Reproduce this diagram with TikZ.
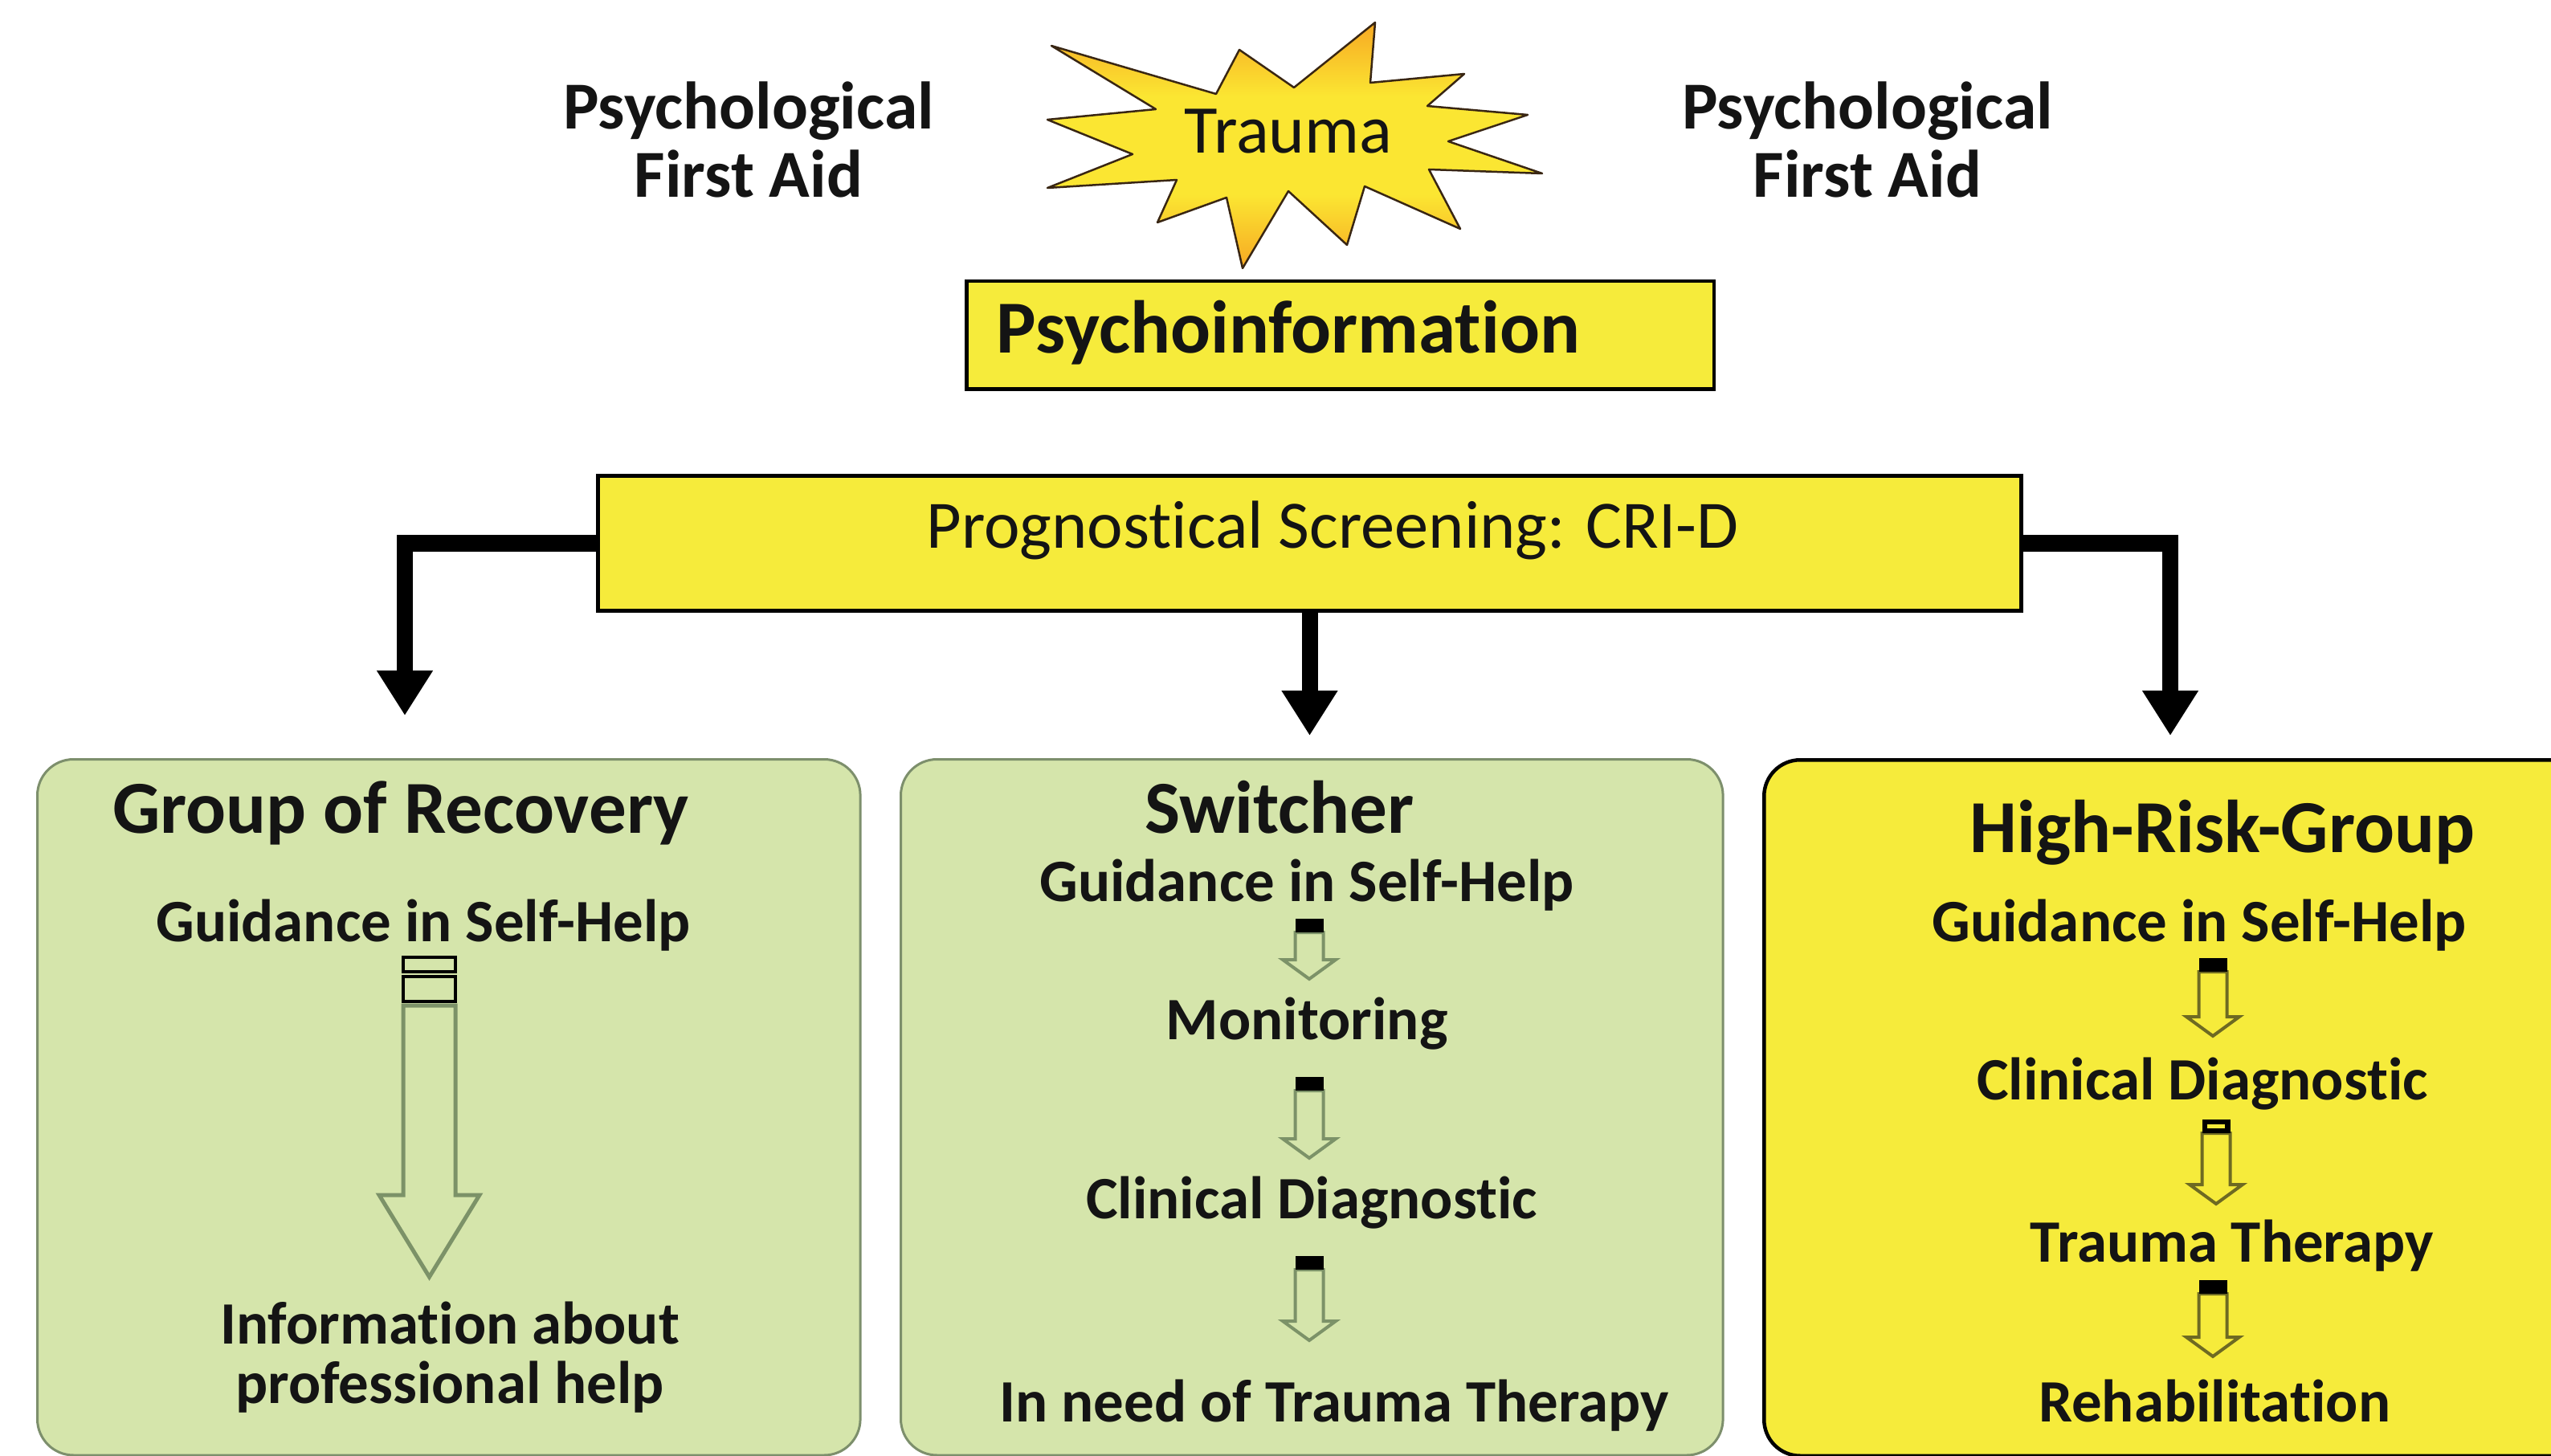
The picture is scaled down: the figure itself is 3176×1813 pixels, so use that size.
\documentclass[tikz,border=0pt]{standalone}
\usepackage{fontspec}
\setmainfont{Carlito}[Ligatures={NoCommon,NoContextual},Contextuals=NoAlternate]
\usetikzlibrary{arrows.meta}
\definecolor{boxyellow}{HTML}{F6EB3B}
\definecolor{boxgreen}{HTML}{D5E5AB}
\definecolor{greenedge}{HTML}{7D8F6C}
\definecolor{arrgreen}{HTML}{7C9268}
\definecolor{arrolive}{HTML}{6E6A22}
\definecolor{starred}{HTML}{E8461A}
\definecolor{starorange}{HTML}{F27E1F}
\definecolor{starmid}{HTML}{F8B526}
\definecolor{staryellow}{HTML}{FBE632}
\definecolor{textdark}{HTML}{141414}
\pgfdeclareverticalshading{starshade}{100bp}{color(0bp)=(starred); color(14bp)=(starorange); color(28bp)=(starmid); color(40bp)=(staryellow); color(60bp)=(staryellow); color(72bp)=(starmid); color(86bp)=(starorange); color(100bp)=(starred)}
\newcommand\blockarrow[5]{%
  \draw[line width=0.04cm,draw=#4,fill=#5,line join=miter]
    ({#1-17.5},{#2+17}) -- ({#1-17.5},{#3-24}) -- ({#1-33},{#3-24}) -- (#1,#3)
    -- ({#1+33},{#3-24}) -- ({#1+17.5},{#3-24}) -- ({#1+17.5},{#2+17}) -- cycle;
  \fill[black] ({#1-17.5},#2) rectangle ({#1+17.5},{#2+17});}
\begin{document}
\begin{tikzpicture}[x=0.01cm,y=-0.01cm,
  every node/.style={inner sep=0pt, text=textdark},
  lbl/.style={anchor=base},
  bigbold/.style={lbl, font=\fontsize{26.5}{30}\selectfont\bfseries},
  pfa/.style={lbl, font=\fontsize{23.8}{28}\selectfont\bfseries},
  plain/.style={lbl, font=\fontsize{24.2}{28}\selectfont},
  item/.style={lbl, font=\fontsize{21.3}{25}\selectfont\bfseries},
  greenbox/.style={draw=greenedge, line width=0.03cm, fill=boxgreen, rounded corners=0.45cm},
  yellowbox/.style={draw=black, line width=0.045cm, fill=boxyellow},
  conn/.style={line width=0.2cm, black, line join=miter, -{Triangle[width=0.66cm,length=0.56cm]}},
  bigarrow/.style={line width=0.05cm, draw=arrgreen, fill=boxgreen, line join=miter},
  startrace/.style={shade, shading=starshade, draw=black!70!brown, line width=0.025cm, line join=round}
]
\useasboundingbox (0,0) rectangle (3176,1813);
\clip (0,0) rectangle (3176,1813);

% Psychological First Aid
\node[pfa] (pfaL1) at (932,161) {Psychological};
\node[pfa] (pfaL2) at (932,246) {First Aid};
\node[pfa] (pfaR1) at (2325,161) {Psychological};
\node[pfa] (pfaR2) at (2325,246) {First Aid};

% star
\path[startrace] (1309,57) -- (1514,117) -- (1543,62) -- (1611,109) -- (1712,28) -- (1706,103)
  -- (1823,92) -- (1777,132) -- (1902,143) -- (1803,176) -- (1920,216) -- (1779,211)
  -- (1818,285) -- (1699,232) -- (1677,305) -- (1604,238) -- (1547,334) -- (1527,246)
  -- (1441,277) -- (1465,224) -- (1304,234) -- (1410,192) -- (1304,149) -- (1439,136) -- cycle;
\node[plain] (trauma) at (1604,191) {Trauma};

% Psychoinformation
\node[yellowbox, anchor=north west, minimum width=9.3cm, minimum height=1.34cm] (psy) at (1201,348) {};
\node[lbl, anchor=base west, font=\fontsize{26.5}{30}\selectfont\bfseries] (psytxt) at (1240,440) {Psychoinformation};

% Screening
\node[yellowbox, line width=0.05cm, minimum width=17.71cm, minimum height=1.67cm] (scr) at (1630.5,676.5) {};
\node[plain, font=\fontsize{24}{28}\selectfont] (scrtxt) at (1659,683) {Prognostical Screening: CRI-D};

% connectors
\coordinate (tipL) at (504,891);
\coordinate (tipM) at (1630.5,916);
\coordinate (tipR) at (2702,916);
\draw[conn] (scr.west) -| (tipL);
\draw[conn] (scr.south) -- (tipM);
\draw[conn] (scr.east) -| (tipR);

% boxes
\node[greenbox, anchor=north west, minimum width=10.24cm, minimum height=8.66cm] (boxL) at (45,944) {};
\node[greenbox, anchor=north west, minimum width=10.23cm, minimum height=8.66cm] (boxM) at (1120,944) {};
\node[yellowbox, rounded corners=0.45cm, anchor=north west, minimum width=11cm, minimum height=8.66cm] (boxR) at (2194,944) {};

% left box
\node[bigbold] (tL) at (499,1037) {Group of Recovery};
\node[item] (gL) at (527,1172) {Guidance in Self-Help};
\draw[line width=0.045cm] (502,1192) rectangle (567,1210);
\draw[line width=0.045cm] (502,1216) rectangle (567,1247);
\draw[bigarrow] (502,1252) -- (502,1488) -- (472,1488) -- (534.5,1590) -- (597,1488) -- (567,1488) -- (567,1252) -- cycle;
\node[item] (iL1) at (560,1673) {Information about};
\node[item] (iL2) at (560,1747) {professional help};

% middle box
\node[bigbold] (tM) at (1593,1037) {Switcher};
\node[item] (gM) at (1627,1122) {Guidance in Self-Help};
\blockarrow{1630}{1144}{1219}{arrgreen}{boxgreen}
\node[item] (mM) at (1627,1294) {Monitoring};
\blockarrow{1630}{1341}{1442}{arrgreen}{boxgreen}
\node[item] (cM) at (1633,1517) {Clinical Diagnostic};
\blockarrow{1630}{1564}{1669}{arrgreen}{boxgreen}
\node[item] (nM) at (1661,1770) {In need of Trauma Therapy};

% right box
\node[bigbold] (tR) at (2767,1061) {High-Risk-Group};
\node[item] (gR) at (2738,1172) {Guidance in Self-Help};
\blockarrow{2755}{1193}{1290}{arrolive}{boxyellow}
\node[item] (cR) at (2742,1369) {Clinical Diagnostic};
\blockarrow{2759}{1394}{1499}{arrolive}{boxyellow}
\fill[boxyellow] (2748,1400) rectangle (2770,1405);
\node[item] (trR) at (2779,1571) {Trauma Therapy};
\blockarrow{2755}{1594}{1689}{arrolive}{boxyellow}
\node[item] (rR) at (2757,1770) {Rehabilitation};
\end{tikzpicture}
\end{document}
